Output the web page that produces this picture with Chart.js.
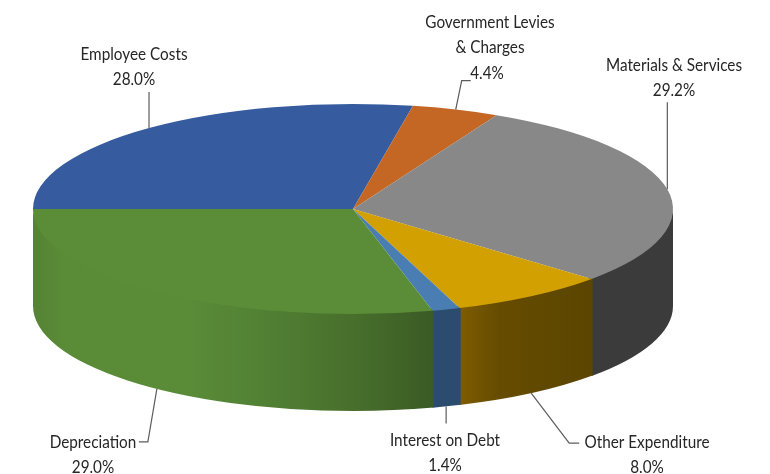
<!DOCTYPE html>
<html><head><meta charset="utf-8">
<style>html,body{margin:0;padding:0;background:#fff}canvas{display:block;filter:blur(.35px)}</style>
<script src="https://cdn.jsdelivr.net/npm/chart.js@4"></script>
</head><body>
<canvas id="c" width="770" height="474"></canvas>
<script>
const categories = ["Employee Costs","Government Levies\n& Charges","Materials & Services","Other Expenditure","Interest on Debt","Depreciation"];
const shares = [28.0,4.4,29.2,8.0,1.4,29.0];
const topColors = ["#365c9f","#c46624","#888888","#d2a000","#4a7eb2","#5b8d38"];
const wallStops = [
  [[0,"#22395f"],[1,"#22395f"]],
  [[0,"#763d15"],[1,"#763d15"]],
  [[0,"#3b3b3b"],[1,"#3b3b3b"]],
  [[0,"#7f5c00"],[0.3,"#654c00"],[1,"#5b4500"]],
  [[0,"#2b4c6e"],[1,"#2b4c6e"]],
  [[0,"#548434"],[0.08,"#5a8b37"],[0.38,"#5a8c38"],[0.6,"#507f33"],[0.8,"#486f2c"],[1,"#3a5b25"]]
];
const pie = {cx:353, cy:209, rx:320, ry:105, depth:97};
const leaderOffsets = [
  [[0,-36]],
  [[6,-29],[15,-29]],
  [[0,-87]],
  [[38,50],[48,50]],
  [[0,17]],
  [[-9,53],[-18,53]]
];
const labelPos = [[134,54],[490,22],[674,65],[647,442],[445,440],[93,442]];
const valuePos = [null,[487,73],null,null,null,null];
const lineGap = 25;
const font = '18px Lato,sans-serif';
const textSqueeze = 0.85;

function squeezedText(ctx,t,x,y){
  ctx.save();
  ctx.translate(x,y);
  ctx.scale(textSqueeze,1);
  ctx.fillText(t,0,0);
  ctx.restore();
}

const pie3d = {
  id:'pie3d',
  beforeDatasetsDraw(chart){
    const ctx = chart.ctx, arcs = chart.getDatasetMeta(0).data;
    const {cx,cy,rx,ry,depth} = pie;
    ctx.save();
    arcs.forEach((a,i)=>{
      const s = Math.max(a.startAngle,0), e = Math.min(a.endAngle,Math.PI);
      if(e<=s) return;
      const x0 = cx+rx*Math.cos(e), x1 = cx+rx*Math.cos(s);
      const g = ctx.createLinearGradient(Math.min(x0,x1),0,Math.max(x0,x1),0);
      wallStops[i].forEach(p=>g.addColorStop(p[0],p[1]));
      ctx.fillStyle = g;
      // overlap slightly under the neighbour and under the top face to hide seams
      const s2 = s>0 ? s-0.004 : s;
      ctx.beginPath();
      ctx.ellipse(cx,cy-2,rx,ry,0,s2,e);
      ctx.ellipse(cx,cy+depth,rx,ry,0,e,s2,true);
      ctx.closePath();
      ctx.fill();
    });
    ctx.restore();
  },
  beforeDatasetDraw(chart){
    const ctx = chart.ctx, a = chart.getDatasetMeta(0).data[0];
    const R = a.outerRadius;
    ctx.save();
    ctx.translate(pie.cx,pie.cy);
    ctx.scale(pie.rx/R,pie.ry/R);
    ctx.translate(-a.x,-a.y);
  },
  afterDatasetDraw(chart){ chart.ctx.restore(); },
  afterDraw(chart){
    const ctx = chart.ctx, arcs = chart.getDatasetMeta(0).data;
    const {cx,cy,rx,ry,depth} = pie;
    ctx.save();
    ctx.font = font;
    ctx.textAlign = 'center';
    ctx.textBaseline = 'middle';
    arcs.forEach((a,i)=>{
      const m = (a.startAngle+a.endAngle)/2;
      const front = Math.sin(m)>0;
      const ax = cx+rx*Math.cos(m), ay = cy+ry*Math.sin(m)+(front?depth:0);
      ctx.strokeStyle = '#5c5c5c';
      ctx.lineWidth = 1.2;
      ctx.beginPath();
      ctx.moveTo(ax,ay);
      leaderOffsets[i].forEach(o=>ctx.lineTo(ax+o[0],ay+o[1]));
      ctx.stroke();
      ctx.fillStyle = '#262626';
      const lines = categories[i].split("\n");
      const [lx,ly] = labelPos[i];
      lines.forEach((t,k)=>squeezedText(ctx,t,lx,ly+k*lineGap));
      const vp = valuePos[i] || [lx,ly+lines.length*lineGap];
      squeezedText(ctx,shares[i].toFixed(1)+'%',vp[0],vp[1]);
    });
    ctx.restore();
  }
};

new Chart(document.getElementById('c'),{
  type:'pie',
  data:{labels:categories,datasets:[{data:shares,backgroundColor:topColors,borderWidth:0,clip:false}]},
  options:{
    responsive:false,animation:false,devicePixelRatio:1,rotation:-90,
    plugins:{legend:{display:false},tooltip:{enabled:false}}
  },
  plugins:[pie3d]
});
</script>
</body></html>
